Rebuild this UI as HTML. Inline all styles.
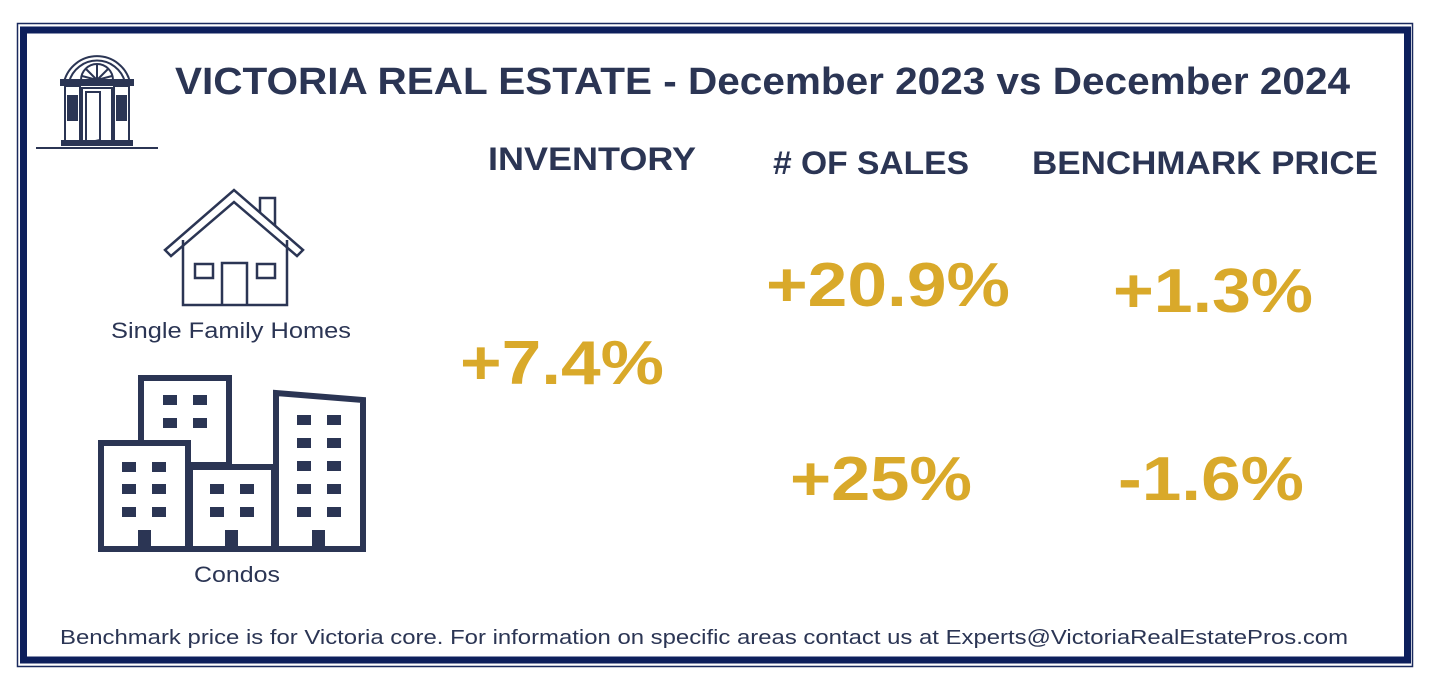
<!DOCTYPE html>
<html><head><meta charset="utf-8"><style>
html,body{margin:0;padding:0;background:#fff;}
svg{display:block;}
text{font-family:"Liberation Sans",sans-serif;}
</style></head><body>
<svg width="1430" height="684" viewBox="0 0 1430 684" xmlns="http://www.w3.org/2000/svg">
<rect width="1430" height="684" fill="#fff"/>
<rect x="17.5" y="23.5" width="1395" height="643" fill="none" stroke="#1a2a5e" stroke-width="1.5"/>
<rect x="23.5" y="30" width="1384" height="630" fill="none" stroke="#0d1f5c" stroke-width="7"/>
<!-- logo -->
<g stroke="#2b3554" fill="none" stroke-width="2">
<path d="M64 82 A34 34 0 0 1 130 82"/>
<path d="M69 82 A29 29 0 0 1 125 82"/>
<path d="M81 80 A16 16 0 0 1 113 80 Z"/>
<path d="M97 80 L97 64 M97 80 L86 69 M97 80 L108 69 M97 80 L82 76 M97 80 L112 76"/>
<rect x="61" y="80" width="72" height="5" fill="#2b3554"/>
<rect x="65" y="86" width="15" height="55"/>
<rect x="114" y="86" width="15" height="55"/>
<rect x="82" y="88" width="30" height="55"/>
<rect x="68" y="96" width="9" height="24" fill="#2b3554"/>
<rect x="117" y="96" width="9" height="24" fill="#2b3554"/>
<path d="M86 92 L100 92 L100 140 L86 143 Z" fill="#fff"/>
<rect x="62" y="141" width="70" height="4" fill="#2b3554"/>
<line x1="36" y1="148" x2="158" y2="148"/>
</g>
<text x="175" y="94" font-size="38" font-weight="bold" fill="#2b3554" textLength="1175" lengthAdjust="spacingAndGlyphs">VICTORIA REAL ESTATE - December 2023 vs December 2024</text>
<g font-size="32" font-weight="bold" fill="#2b3554">
<text x="488" y="170" textLength="208" lengthAdjust="spacingAndGlyphs">INVENTORY</text>
<text x="773" y="174" textLength="196" lengthAdjust="spacingAndGlyphs"># OF SALES</text>
<text x="1032" y="174" textLength="346" lengthAdjust="spacingAndGlyphs">BENCHMARK PRICE</text>
</g>
<g font-size="62" font-weight="bold" fill="#d9a92a">
<text x="460" y="384" textLength="204" lengthAdjust="spacingAndGlyphs">+7.4%</text>
<text x="766" y="306" textLength="244" lengthAdjust="spacingAndGlyphs">+20.9%</text>
<text x="1113" y="312" textLength="200" lengthAdjust="spacingAndGlyphs">+1.3%</text>
<text x="790" y="500" textLength="182" lengthAdjust="spacingAndGlyphs">+25%</text>
<text x="1118" y="500" textLength="186" lengthAdjust="spacingAndGlyphs">-1.6%</text>
</g>
<g stroke="#2b3554" stroke-width="2.5" fill="none">
<path d="M165 250 L234 190 L303 250 L297 256 L234 202 L171 256 Z"/>
<path d="M260 213 L260 198 L275 198 L275 226"/>
<path d="M183 240 L183 305 L287 305 L287 240"/>
<path d="M222 305 L222 263 L247 263 L247 305"/>
<rect x="195" y="264" width="18" height="14"/>
<rect x="257" y="264" width="18" height="14"/>
</g>
<text x="231" y="338" font-size="22" fill="#2b3554" text-anchor="middle" textLength="240" lengthAdjust="spacingAndGlyphs">Single Family Homes</text>
<g stroke="#2b3554" stroke-width="6" fill="#fff">
<rect x="141" y="378" width="88" height="87"/>
<rect x="101" y="443" width="87" height="106"/>
<rect x="190" y="467" width="84" height="82"/>
<path d="M276 549 L276 393 L363 400 L363 549 Z"/>
<line x1="98" y1="549" x2="366" y2="549"/>
</g>
<g fill="#2b3554">
<rect x="163" y="395" width="14" height="10"/><rect x="193" y="395" width="14" height="10"/>
<rect x="163" y="418" width="14" height="10"/><rect x="193" y="418" width="14" height="10"/>
<rect x="122" y="462" width="14" height="10"/><rect x="152" y="462" width="14" height="10"/>
<rect x="122" y="484" width="14" height="10"/><rect x="152" y="484" width="14" height="10"/>
<rect x="122" y="507" width="14" height="10"/><rect x="152" y="507" width="14" height="10"/>
<rect x="210" y="484" width="14" height="10"/><rect x="240" y="484" width="14" height="10"/>
<rect x="210" y="507" width="14" height="10"/><rect x="240" y="507" width="14" height="10"/>
<rect x="297" y="415" width="14" height="10"/><rect x="327" y="415" width="14" height="10"/>
<rect x="297" y="438" width="14" height="10"/><rect x="327" y="438" width="14" height="10"/>
<rect x="297" y="461" width="14" height="10"/><rect x="327" y="461" width="14" height="10"/>
<rect x="297" y="484" width="14" height="10"/><rect x="327" y="484" width="14" height="10"/>
<rect x="297" y="507" width="14" height="10"/><rect x="327" y="507" width="14" height="10"/>
<rect x="138" y="530" width="13" height="19"/>
<rect x="225" y="530" width="13" height="19"/>
<rect x="312" y="530" width="13" height="19"/>
</g>
<text x="237" y="582" font-size="22" fill="#2b3554" text-anchor="middle" textLength="86" lengthAdjust="spacingAndGlyphs">Condos</text>
<text x="60" y="644" font-size="20" fill="#2b3554" textLength="1288" lengthAdjust="spacingAndGlyphs">Benchmark price is for Victoria core. For information on specific areas contact us at Experts@VictoriaRealEstatePros.com</text>
</svg>
</body></html>
